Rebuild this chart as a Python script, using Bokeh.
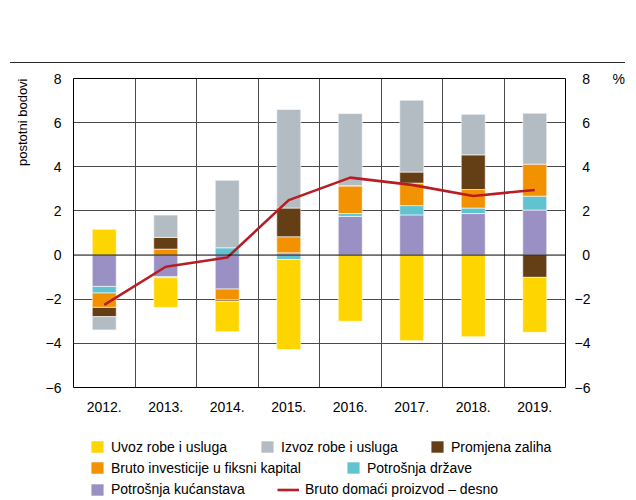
import numpy as np
from bokeh.plotting import figure
from bokeh.layouts import column
from bokeh.models import (Range1d, LinearAxis, FixedTicker, Span, Legend,
                          LegendItem, Title, Div)
from bokeh.embed import file_html
from bokeh.resources import INLINE

# ---------------- data ----------------
years = ["2012.", "2013.", "2014.", "2015.", "2016.", "2017.", "2018.", "2019."]
kucanstva = [-1.42, -0.98, -1.54, 0.10, 1.75, 1.82, 1.88, 2.04]      # Potrošnja kućanstava
drzava = [-0.30, -0.05, 0.33, -0.20, 0.13, 0.42, 0.25, 0.63]         # Potrošnja države
investicije = [-0.65, 0.27, -0.50, 0.73, 1.26, 1.02, 0.84, 1.45]     # Bruto investicije u fiksni kapital
zalihe = [-0.42, 0.53, -0.06, 1.30, 0.00, 0.50, 1.57, -1.01]         # Promjena zaliha
izvoz = [-0.60, 1.01, 3.06, 4.47, 3.27, 3.26, 1.84, 2.31]            # Izvoz robe i usluga
uvoz = [1.17, -1.34, -1.37, -4.08, -3.00, -3.88, -3.70, -2.49]       # Uvoz robe i usluga
bdp = [-2.26, -0.53, -0.11, 2.49, 3.51, 3.18, 2.68, 2.95]            # BDP, % (right axis)
y_ticks = [-6, -4, -2, 0, 2, 4, 6, 8]

FONT = "Liberation Sans"
LINE_NAME = "Bruto domaći proizvod – desno"

series = [
    ("Potrošnja kućanstava", kucanstva, "#9B90C4"),
    ("Potrošnja države", drzava, "#62C3D0"),
    ("Bruto investicije u fiksni kapital", investicije, "#F39200"),
    ("Promjena zaliha", zalihe, "#643F15"),
    ("Izvoz robe i usluga", izvoz, "#B4BCC3"),
    ("Uvoz robe i usluga", uvoz, "#FFD500"),
]
LINE_COLOR = "#B81D23"

xs = [i + 0.5 for i in range(len(years))]


def stack(target):
    """Draw positive parts upward, negative parts downward."""
    pos = np.zeros(len(years))
    neg = np.zeros(len(years))
    out = {}
    for name, vals, color in series:
        v = np.array(vals, dtype=float)
        bottom = np.where(v >= 0, pos, neg)
        topv = bottom + v
        pos = np.where(v >= 0, topv, pos)
        neg = np.where(v < 0, topv, neg)
        out[name] = target.vbar(x=xs, width=0.39, bottom=bottom, top=topv,
                                fill_color=color, line_color="white", line_width=0.6)
    return out


# ---------------- top rule ----------------
rule = Div(text="", width=615, height=63, margin=(0, 11, 0, 10),
           styles={"border-bottom": "1.3px solid #2a2a2a", "box-sizing": "border-box"})

# ---------------- main chart ----------------
p = figure(width=636, height=367, output_backend="svg", toolbar_location=None,
           x_range=Range1d(0, len(years)), y_range=Range1d(-6, 8),
           min_border_left=73, min_border_right=71, min_border_top=15,
           min_border_bottom=43)
p.background_fill_color = "white"
p.border_fill_color = "white"
p.outline_line_color = "black"
p.outline_line_width = 1
p.outline_line_alpha = 1

p.xgrid.ticker = FixedTicker(ticks=list(range(1, len(years))))
p.ygrid.ticker = FixedTicker(ticks=[t for t in y_ticks if t not in (-6, 0, 8)])
for g in (p.xgrid[0], p.ygrid[0]):
    g.grid_line_color = "#4a4a4a"
    g.grid_line_width = 1


def style_axis(ax):
    ax.axis_line_color = None
    ax.major_tick_line_color = None
    ax.minor_tick_line_color = None
    ax.major_tick_out = 0
    ax.major_tick_in = 0
    ax.major_label_text_font = FONT
    ax.major_label_text_font_size = "14px"
    ax.major_label_text_color = "black"


p.xaxis.ticker = FixedTicker(ticks=xs)
p.xaxis.major_label_overrides = {x: y for x, y in zip(xs, years)}
style_axis(p.xaxis[0])
p.xaxis.major_label_standoff = 14

p.yaxis.ticker = FixedTicker(ticks=y_ticks)
p.yaxis.major_label_overrides = {t: (str(t) if t >= 0 else "\u2212" + str(-t)) for t in y_ticks}
style_axis(p.yaxis[0])
p.yaxis.major_label_standoff = 12

p.extra_y_ranges = {"pct": Range1d(-6, 8)}
rax = LinearAxis(y_range_name="pct", ticker=FixedTicker(ticks=y_ticks))
rax.major_label_overrides = {t: ("\u2007" + str(t) if t >= 0 else "\u2212" + str(-t)) for t in y_ticks}
style_axis(rax)
rax.major_label_standoff = 9
p.add_layout(rax, "right")

# unit marker "%" at the top of the right axis
pax = LinearAxis(y_range_name="pct", ticker=FixedTicker(ticks=[8]))
pax.major_label_overrides = {8: "%"}
style_axis(pax)
pax.major_label_standoff = 19
p.add_layout(pax, "right")

# left axis title at the top
p.add_layout(Title(text="postotni bodovi", align="right", text_font=FONT,
                   text_font_size="13px", text_font_style="normal",
                   text_color="black", standoff=25), "left")

stack(p)
p.add_layout(Span(location=0, dimension="width", line_color="black", line_width=1))
p.line(xs, bdp, y_range_name="pct", line_color=LINE_COLOR, line_width=2.6)

# ---------------- legend panel ----------------
# same series drawn into a strip whose y-range lies outside the data, so only
# the legend entries are visible
lg = figure(width=636, height=70, output_backend="svg", toolbar_location=None,
            x_range=Range1d(0, len(years)), y_range=Range1d(1000, 1001),
            x_axis_type=None, y_axis_type=None,
            min_border_left=73, min_border_right=71, min_border_top=0,
            min_border_bottom=0)
lg.outline_line_color = None
lg.background_fill_color = "white"
lg.border_fill_color = "white"
proxies = stack(lg)
proxies[LINE_NAME] = lg.line(xs, bdp, line_color=LINE_COLOR, line_width=2.6)

leg_specs = [
    ("Uvoz robe i usluga", 16, 16, 45.5),
    ("Izvoz robe i usluga", 186, 16, 45.5),
    ("Promjena zaliha", 356, 16, 45.5),
    ("Bruto investicije u fiksni kapital", 16, 16, 24.5),
    ("Potrošnja države", 272, 16, 24.5),
    ("Potrošnja kućanstava", 16, 16, 3),
    (LINE_NAME, 204, 22, 3),
]
for label, lx, gw, ly in leg_specs:
    leg = Legend(items=[LegendItem(label=label, renderers=[proxies[label]])],
                 location=(lx, ly), orientation="horizontal", padding=0, margin=0,
                 border_line_color=None, background_fill_alpha=0,
                 glyph_width=gw, glyph_height=15, label_height=15,
                 label_standoff=6, spacing=0,
                 label_text_font=FONT, label_text_font_size="14px",
                 label_text_color="black")
    lg.add_layout(leg)

layout = column(rule, p, lg, spacing=0)
open("out.html", "w").write(file_html(layout, INLINE))
